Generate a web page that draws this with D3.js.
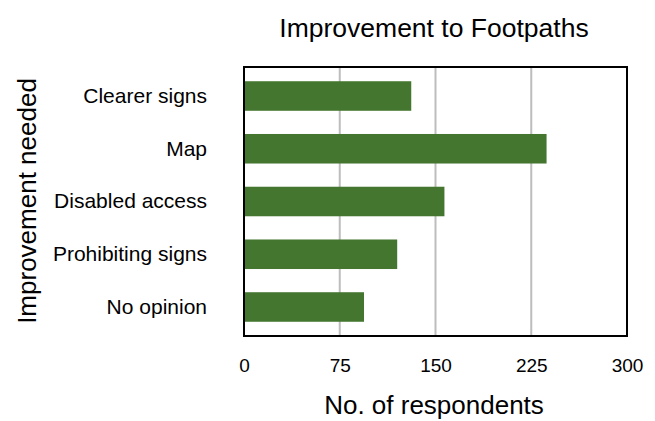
<!DOCTYPE html>
<html><head><meta charset="utf-8">
<script src="https://cdn.jsdelivr.net/npm/d3@7"></script>
<style>body{margin:0;background:#fff;font-family:"Liberation Sans",Arial,Helvetica,sans-serif;}</style>
</head><body><svg id="c" width="655" height="421"></svg>
<script>
const categories = ["Clearer signs","Map","Disabled access","Prohibiting signs","No opinion"];
const values = [131, 237, 157, 120, 94];
const xTicks = [0, 75, 150, 225, 300];
const title = "Improvement to Footpaths";
const xTitle = "No. of respondents";
const yTitle = "Improvement needed";

const FF = "Liberation Sans, Arial, sans-serif";
const svg = d3.select("#c").attr("font-family", FF);
const m = {left:244, right:627, top:67, bottom:336};
const x = d3.scaleLinear().domain([0,300]).range([m.left, m.right]);
const y = d3.scaleBand().domain(categories).range([m.top, m.bottom]).paddingInner(0.44).paddingOuter(0.27);

// gridlines
svg.append("g").selectAll("line").data(xTicks.slice(1,-1)).join("line")
  .attr("x1", d=>x(d)).attr("x2", d=>x(d)).attr("y1", m.top).attr("y2", m.bottom)
  .attr("stroke", "#bdbdbd").attr("stroke-width", 2);

// bars
svg.append("g").selectAll("rect").data(values).join("rect")
  .attr("x", x(0)).attr("y", (d,i)=>y(categories[i]))
  .attr("width", d=>x(d)-x(0)).attr("height", y.bandwidth())
  .attr("fill", "#44762f");

// frame
svg.append("rect").attr("x", m.left).attr("y", m.top)
  .attr("width", m.right-m.left).attr("height", m.bottom-m.top)
  .attr("fill","none").attr("stroke","#000").attr("stroke-width",2);

// x axis
const xa = svg.append("g").attr("transform", `translate(0,${m.bottom})`)
  .call(d3.axisBottom(x).tickValues(xTicks).tickSize(0).tickPadding(23));
xa.attr("font-size", 19).attr("font-family", FF);
xa.select(".domain").remove();
xa.selectAll("text").attr("fill","#000");

// y axis
const ya = svg.append("g").attr("transform", `translate(${m.left},0)`)
  .call(d3.axisLeft(y).tickSize(0).tickPadding(37));
ya.attr("font-size", 21).attr("font-family", FF);
ya.select(".domain").remove();
ya.selectAll("text").attr("fill","#000").attr("dy","0.33em");

// titles
svg.append("text").attr("x", 434).attr("y", 37).attr("text-anchor","middle")
  .attr("font-size", 26.5).text(title);
svg.append("text").attr("x", 434).attr("y", 414).attr("text-anchor","middle")
  .attr("font-size", 26).text(xTitle);
svg.append("text").attr("transform", "translate(36,201) rotate(-90)").attr("text-anchor","middle")
  .attr("font-size", 26).text(yTitle);
</script></body></html>
